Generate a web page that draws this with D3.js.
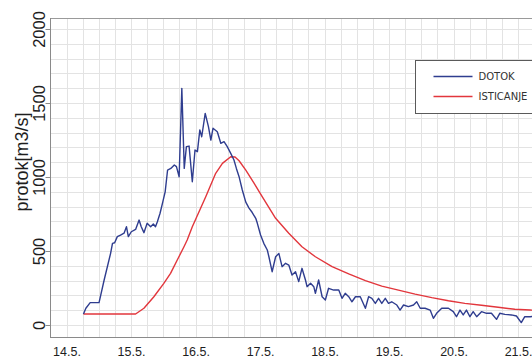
<!DOCTYPE html>
<html>
<head>
<meta charset="utf-8">
<script src="https://cdn.jsdelivr.net/npm/d3@7"></script>
<style>
  html, body { margin: 0; padding: 0; background: #fff; }
  svg { display: block; }
</style>
</head>
<body>
<svg id="chart" width="532" height="358"></svg>
<script>
// Hours counted from 14.5. 00:00, flow in m3/s
const dotokHours = [6.3, 7.2, 8.8, 12.1, 14.0, 16.4, 17.1, 17.9, 18.9, 20.1, 21.4, 22.3, 23.0, 24.1, 25.7,
  27.0, 27.8, 28.8, 30.0, 31.3, 32.3, 33.1, 33.8, 34.8, 35.8, 36.7, 37.6, 38.8, 40.1, 40.9, 41.9, 42.9,
  43.8, 44.6, 45.6, 46.8, 47.8, 48.7, 49.6, 50.3, 51.6, 52.8, 53.7, 54.5, 56.1, 57.4, 58.6, 59.8, 61.1,
  62.3, 63.2, 64.2, 65.4, 66.7, 67.9, 69.1, 70.4, 71.0, 72.2, 73.4, 74.7, 75.3, 76.5, 77.8, 79.0, 80.2,
  81.5, 82.7, 83.9, 85.2, 86.4, 87.6, 88.9, 89.5, 90.8, 92.0, 92.6, 93.8, 95.1, 96.3, 97.5, 99.4, 101.3,
  102.5, 103.7, 105.0, 106.2, 107.5, 109.3, 111.2, 112.4, 113.6, 114.9, 116.1, 117.3, 118.6, 119.8,
  121.0, 122.9, 124.1, 125.4, 127.2, 129.1, 130.3, 131.6, 133.4, 135.3, 136.5, 137.7, 139.6, 142.1,
  143.9, 145.1, 146.4, 147.6, 148.8, 150.1, 151.3, 152.6, 154.4, 156.3, 158.1, 160.0, 161.2, 163.1,
  165.5, 167.4, 169.2, 170.5, 172.5, 175.4];
const dotokValues = [74, 113, 151, 151, 304, 484, 552, 556, 597, 608, 620, 664, 597, 630, 646,
  709, 664, 624, 687, 664, 682, 664, 698, 755, 830, 900, 1047, 1058, 1081, 1070, 1002, 1599,
  1058, 1205, 1209, 968, 1182, 1171, 1318, 1272, 1430, 1340, 1250, 1329, 1306, 1228, 1239, 1205, 1160,
  1115, 1058, 1002, 912, 830, 790, 760, 721, 687, 608, 552, 507, 461, 360, 461, 484, 394,
  417, 405, 338, 360, 293, 383, 304, 259, 282, 259, 214, 304, 191, 169, 248, 236, 236,
  180, 214, 191, 157, 191, 191, 113, 191, 180, 146, 180, 146, 180, 146,
  157, 135, 101, 135, 124, 135, 157, 113, 113, 101, 45, 79, 113, 113,
  90, 56, 101, 68, 101, 56, 90, 56, 90, 79, 79, 38, 79, 72,
  68, 61, 16, 56, 56, 60];

const isticanjeHours = [6.3, 25.7, 28.8, 32.5, 36.2, 38.7, 41.2, 43.7, 44.9, 46.8, 51.8, 55.5, 58.0,
  61.1, 62.7, 64.2, 66.7, 69.7, 72.8, 77.8, 82.7, 87.6, 92.6, 98.8, 105.0, 111.2, 117.3, 123.5,
  129.7, 135.9, 142.1, 148.2, 154.4, 160.6, 166.8, 172.5, 175.4];
const isticanjeValues = [74, 74, 113, 191, 281, 349, 439, 529, 574, 664, 867, 1025, 1092,
  1137, 1135, 1110, 1047, 960, 867, 721, 620, 529, 461, 394, 345, 300, 263, 236,
  209, 185, 164, 146, 133, 120, 106, 101, 98];

const seriesNames = ["DOTOK", "ISTICANJE"];
const seriesColors = ["#2f3d8f", "#e2363c"];
const yTickValues = [0, 500, 1000, 1500, 2000];
const axisTitle = "protok[m3/s]";

const t0 = Date.UTC(2014, 4, 14, 0);
const toDate = h => new Date(t0 + h * 3600e3);

const svg = d3.select("#chart");
const plot = { left: 50, top: 18, bottom: 337, right: 552 };

const x = d3.scaleUtc()
  .domain([new Date(Date.UTC(2014, 4, 13, 18)), new Date(Date.UTC(2014, 4, 21, 12))])
  .range([50.4, 550.3]);
const y = d3.scaleLinear().domain([0, 2000]).range([325, 29]);

svg.append("defs").append("clipPath").attr("id", "plotclip")
  .append("rect").attr("x", plot.left).attr("y", plot.top)
  .attr("width", plot.right - plot.left).attr("height", plot.bottom - plot.top);

// grid: every 100 m3/s and every 6 hours
const grid = svg.append("g").attr("stroke", "#e3e3e3").attr("stroke-width", 1);
grid.selectAll("line.h").data(d3.range(0, 2001, 100)).join("line")
  .attr("x1", plot.left).attr("x2", plot.right)
  .attr("y1", d => Math.round(y(d)) + 0.5).attr("y2", d => Math.round(y(d)) + 0.5);
grid.selectAll("line.v").data(x.ticks(d3.utcHour.every(6))).join("line")
  .attr("y1", plot.top).attr("y2", plot.bottom)
  .attr("x1", d => Math.round(x(d)) + 0.5).attr("x2", d => Math.round(x(d)) + 0.5);

// top frame
svg.append("line").attr("x1", plot.left).attr("x2", plot.right)
  .attr("y1", plot.top + 0.5).attr("y2", plot.top + 0.5).attr("stroke", "#9a9a9a");

// series
const line = d3.line().x(d => x(d[0])).y(d => y(d[1]));
const seriesData = [
  d3.zip(dotokHours.map(toDate), dotokValues),
  d3.zip(isticanjeHours.map(toDate), isticanjeValues)
];
const lines = svg.append("g").attr("clip-path", "url(#plotclip)");
[1, 0].forEach(i => {
  lines.append("path").datum(seriesData[i])
    .attr("fill", "none").attr("stroke", seriesColors[i])
    .attr("stroke-width", 1.4).attr("stroke-linejoin", "round")
    .attr("d", line);
});

// y axis
const yAxis = svg.append("g").attr("transform", `translate(${plot.left + 0.5},0)`)
  .call(d3.axisLeft(y).tickValues(yTickValues).tickFormat(d3.format("d")).tickSize(5).tickSizeOuter(0));
yAxis.select(".domain").remove();
yAxis.append("line").attr("y1", plot.top).attr("y2", plot.bottom).attr("stroke", "#8a8a8a");
yAxis.selectAll(".tick line").attr("stroke", "#8a8a8a");
yAxis.selectAll(".tick text")
  .attr("x", null).attr("dy", null)
  .attr("transform", "translate(-6,0) rotate(-90)")
  .attr("text-anchor", "middle")
  .attr("fill", "#1e1e1e")
  .style("font", "16.5px 'Liberation Sans', Arial, sans-serif");

// x axis
const xAxis = svg.append("g").attr("transform", `translate(0,${plot.bottom + 0.5})`)
  .call(d3.axisBottom(x).ticks(d3.utcDay.every(1)).tickFormat(d3.utcFormat("%-d.%-m.")).tickSize(0).tickSizeOuter(0));
xAxis.select(".domain").remove();
xAxis.append("line").attr("x1", plot.left).attr("x2", plot.right).attr("stroke", "#8a8a8a");
xAxis.selectAll(".tick text")
  .attr("y", 18.5).attr("dy", null)
  .attr("fill", "#1e1e1e")
  .style("font", "12.5px 'Liberation Sans', Arial, sans-serif");

// axis title
svg.append("text")
  .attr("transform", "translate(28,162) rotate(-90)")
  .attr("text-anchor", "middle")
  .attr("fill", "#1e1e1e")
  .style("font", "18px 'Liberation Sans', Arial, sans-serif")
  .text(axisTitle);

// legend
const lg = svg.append("g").attr("transform", "translate(415.5,60.5)");
lg.append("rect").attr("width", 140).attr("height", 53)
  .attr("fill", "#fff").attr("stroke", "#5a5a5a").attr("stroke-width", 1);
seriesNames.forEach((name, i) => {
  const yy = 16 + i * 20;
  lg.append("line").attr("x1", 18).attr("x2", 57).attr("y1", yy).attr("y2", yy)
    .attr("stroke", seriesColors[i]).attr("stroke-width", 1.4);
  lg.append("text").attr("x", 63).attr("y", yy + 3.5)
    .attr("fill", "#333")
    .style("font", "10px 'DejaVu Sans', sans-serif")
    .text(name);
});
</script>
</body>
</html>
